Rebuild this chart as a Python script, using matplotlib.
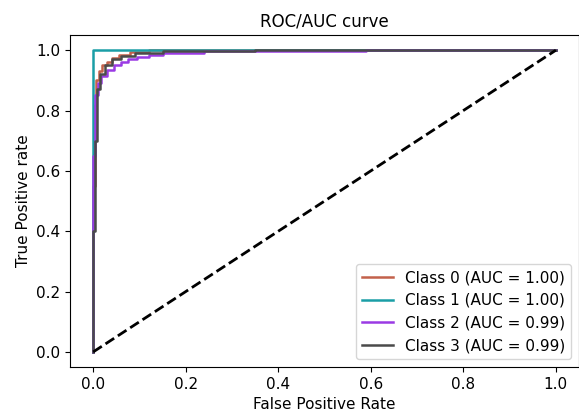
import matplotlib
matplotlib.use("Agg")
import matplotlib.pyplot as plt

# ROC points per class (false positive rate, true positive rate)
class_names = ["Class 0", "Class 1", "Class 2", "Class 3"]
auc_values = [1.00, 1.00, 0.99, 0.99]
colors = ["#c3614b", "#1a9ea6", "#9a3ae4", "#4a4a4a"]

fpr_0 = [0, 0, 0.003, 0.003, 0.006, 0.006, 0.012, 0.012, 0.02, 0.02, 0.03, 0.03,
         0.04, 0.04, 0.055, 0.055, 0.08, 0.08, 0.12, 0.12, 1.0]
tpr_0 = [0, 0.55, 0.55, 0.82, 0.82, 0.90, 0.90, 0.93, 0.93, 0.95, 0.95, 0.96,
         0.96, 0.975, 0.975, 0.985, 0.985, 0.995, 0.995, 1.0, 1.0]

fpr_1 = [0, 0, 1.0]
tpr_1 = [0, 1.0, 1.0]

fpr_2 = [0, 0, 0.004, 0.004, 0.01, 0.01, 0.017, 0.017, 0.03, 0.03, 0.045, 0.045,
         0.06, 0.06, 0.075, 0.075, 0.095, 0.095, 0.12, 0.12, 0.15, 0.15,
         0.24, 0.24, 0.59, 0.59, 1.0]
tpr_2 = [0, 0.65, 0.65, 0.85, 0.85, 0.89, 0.89, 0.915, 0.915, 0.935, 0.935, 0.95,
         0.95, 0.96, 0.96, 0.97, 0.97, 0.977, 0.977, 0.985, 0.985, 0.99,
         0.99, 0.997, 0.997, 1.0, 1.0]

fpr_3 = [0, 0, 0.003, 0.003, 0.008, 0.008, 0.015, 0.015, 0.025, 0.025, 0.04, 0.04,
         0.06, 0.06, 0.09, 0.09, 0.15, 0.15, 0.35, 0.35, 1.0]
tpr_3 = [0, 0.40, 0.40, 0.70, 0.70, 0.87, 0.87, 0.92, 0.92, 0.95, 0.95, 0.97,
         0.97, 0.98, 0.98, 0.99, 0.99, 0.996, 0.996, 1.0, 1.0]

fprs = [fpr_0, fpr_1, fpr_2, fpr_3]
tprs = [tpr_0, tpr_1, tpr_2, tpr_3]

fig = plt.figure(figsize=(5.79, 4.18), dpi=100)
ax = fig.add_axes([0.121, 0.122, 0.879, 0.794])

for name, auc, c, f, t in zip(class_names, auc_values, colors, fprs, tprs):
    ax.plot(f, t, color=c, lw=1.8, label=f"{name} (AUC = {auc:.2f})")

ax.plot([0, 1], [0, 1], "k--", lw=2)

ax.set_xlim(-0.05, 1.05)
ax.set_ylim(-0.05, 1.05)
ax.set_title("ROC/AUC curve", fontsize=12)
ax.set_xlabel("False Positive Rate", fontsize=11)
ax.set_ylabel("True Positive rate", fontsize=11)
ax.tick_params(labelsize=11)
ax.legend(loc="lower right", fontsize=11)

fig.savefig("out.png", dpi=100)
